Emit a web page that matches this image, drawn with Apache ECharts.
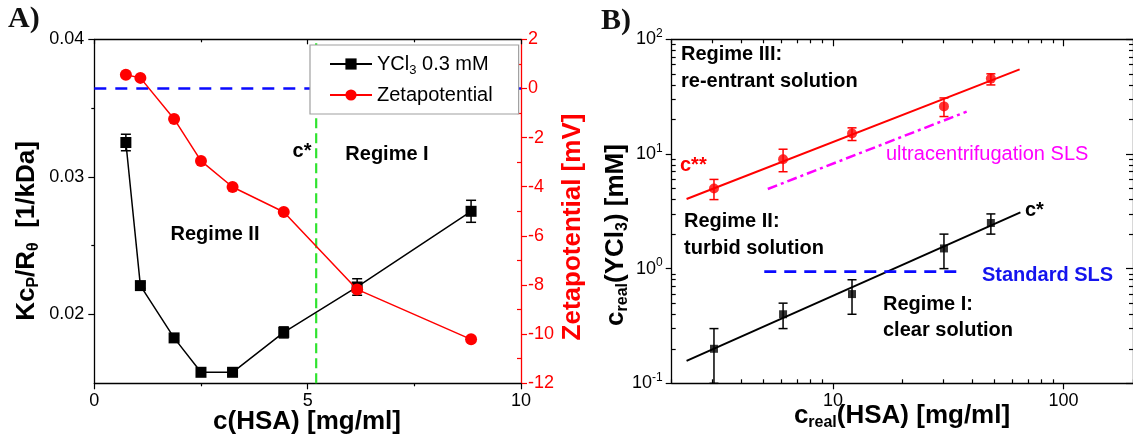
<!DOCTYPE html>
<html>
<head>
<meta charset="utf-8">
<script src="https://cdn.jsdelivr.net/npm/echarts@6/dist/echarts.min.js"></script>
<style>
  html, body { margin: 0; padding: 0; background: #fff; }
  #chart { width: 1133px; height: 443px; }
</style>
</head>
<body>
<div id="chart"></div>
<script>
// ---------- Panel A: scattering ratio and zeta potential vs. HSA concentration ----------
const hsaConc       = [0.74, 1.08, 1.87, 2.50, 3.24, 4.44, 6.16, 8.83];          // mg/ml
const kcOverR       = [0.0325, 0.0221, 0.0183, 0.0158, 0.0158, 0.0187, 0.0220, 0.0275]; // 1/kDa
const kcOverRErr    = [0.0006, 0.0002, 0.0002, 0.0002, 0.0002, 0.0004, 0.0006, 0.0008];
const zetaPotential = [0.56, 0.43, -1.24, -2.95, -4.01, -5.03, -8.18, -10.21];   // mV
const zeroLineX     = [0, 10];
const zeroLineY     = [0, 0];
const cStarLineX    = [5.2, 5.2];
const cStarLineY    = [-12, 2];

// ---------- Panel B: phase boundaries (log-log) ----------
const hsaReal          = [3.05, 6.08, 12.1, 30.3, 48.4];   // mg/ml
const cDoubleStar      = [5.0, 9.0, 15.1, 26.0, 45.4];     // mM
const cDoubleStarLow   = [4.0, 7.0, 13.1, 21.2, 40.0];
const cDoubleStarHigh  = [6.0, 11.0, 16.9, 30.8, 50.0];
const cStarVals        = [0.2, 0.4, 0.6, 1.5, 2.5];        // mM
const cStarLow         = [0.1, 0.3, 0.4, 1.0, 2.0];
const cStarHigh        = [0.3, 0.5, 0.8, 2.0, 3.0];
const fitUpperX        = [2.32, 64.5];
const fitUpperY        = [4.05, 54.6];
const fitLowerX        = [2.32, 65.0];
const fitLowerY        = [0.157, 3.1];
const ultraX           = [5.22, 38.0];
const ultraY           = [4.95, 23.4];
const standardX        = [5.04, 36.2];
const standardY        = [0.94, 0.94];

// ---------- tick values ----------
const aYMajor   = [0.02, 0.03, 0.04];
const aYMinor   = [0.025, 0.035];
const zetaMinor = [-11, -9, -7, -5, -3, -1, 1];
const bXMajor   = [10, 100];
const bYMajor   = [0.1, 1, 10, 100];

function logMinor(decades) {
  const out = [];
  decades.forEach(d => { for (let k = 2; k <= 9; k++) out.push(+(k * d).toPrecision(6)); });
  return out;
}
const bXMinor = logMinor([1, 10, 100]);
const bYMinor = logMinor([0.1, 1, 10]);

const sans = '"Liberation Sans", Arial, sans-serif';
const serif = '"Liberation Serif", "Times New Roman", serif';

const zip = (xs, ys) => xs.map((x, i) => [x, ys[i]]);

function errorBar(color, half, width) {
  return function (params, api) {
    const x = api.value(0);
    const top = api.coord([x, api.value(2)]);
    const bot = api.coord([x, api.value(1)]);
    const st = { stroke: color, lineWidth: width };
    return {
      type: 'group',
      children: [
        { type: 'line', shape: { x1: top[0], y1: top[1], x2: bot[0], y2: bot[1] }, style: st },
        { type: 'line', shape: { x1: top[0] - half, y1: top[1], x2: top[0] + half, y2: top[1] }, style: st },
        { type: 'line', shape: { x1: bot[0] - half, y1: bot[1], x2: bot[0] + half, y2: bot[1] }, style: st }
      ]
    };
  };
}

const axisLineBlack = { show: true, onZero: false, lineStyle: { color: '#000', width: 1.3 } };
const noLine = { show: false, onZero: false };
const labelBase = { fontSize: 18, fontFamily: sans, color: '#000' };
const supRich = { sup: { fontSize: 12, fontFamily: sans, color: '#000', padding: [0, 0, 11, 0] } };

function hiddenAxisExtras() {
  return { axisLabel: { show: false }, splitLine: { show: false } };
}

const chart = echarts.init(document.getElementById('chart'), null, { renderer: 'canvas' });

const option = {
  animation: false,
  backgroundColor: '#fff',
  grid: [
    { left: 94.3, right: 612, top: 39.3, bottom: 59.7 },
    { left: 671.7, right: -2.8, top: 39.3, bottom: 59.7 }
  ],
  xAxis: [
    // 0: panel A bottom
    { gridIndex: 0, type: 'value', min: 0, max: 10, interval: 5, position: 'bottom',
      axisLine: axisLineBlack,
      axisTick: { show: true, length: 6, lineStyle: { color: '#000', width: 1.2 } },
      minorTick: { show: true, splitNumber: 2, length: 3, lineStyle: { color: '#000', width: 1.2 } },
      axisLabel: Object.assign({ margin: 9 }, labelBase),
      splitLine: { show: false } },
    // 1: panel A top frame
    Object.assign({ gridIndex: 0, type: 'value', min: 0, max: 10, interval: 5, position: 'top',
      axisLine: axisLineBlack,
      axisTick: { show: true, inside: true, length: 5, lineStyle: { color: '#000', width: 1.2 } },
      minorTick: { show: true, splitNumber: 2, length: 3, lineStyle: { color: '#000', width: 1.2 } } },
      hiddenAxisExtras()),
    // 2: panel B bottom, decades
    { gridIndex: 1, type: 'log', logBase: 10, min: 2, max: 200, position: 'bottom',
      axisLine: axisLineBlack,
      axisTick: { show: true, length: 6, customValues: bXMajor, lineStyle: { color: '#000', width: 1.2 } },
      axisLabel: Object.assign({ margin: 9, customValues: bXMajor, formatter: v => String(Math.round(v)) }, labelBase),
      splitLine: { show: false } },
    // 3: panel B bottom, minor ticks
    Object.assign({ gridIndex: 1, type: 'log', logBase: 10, min: 2, max: 200, position: 'bottom',
      axisLine: noLine,
      axisTick: { show: true, inside: true, length: 4, customValues: bXMinor, lineStyle: { color: '#000', width: 1.2 } } },
      hiddenAxisExtras()),
    // 4: panel B top, decades
    Object.assign({ gridIndex: 1, type: 'log', logBase: 10, min: 2, max: 200, position: 'top',
      axisLine: axisLineBlack,
      axisTick: { show: true, inside: true, length: 7, customValues: bXMajor, lineStyle: { color: '#000', width: 1.2 } } },
      hiddenAxisExtras()),
    // 5: panel B top, minor ticks
    Object.assign({ gridIndex: 1, type: 'log', logBase: 10, min: 2, max: 200, position: 'top',
      axisLine: noLine,
      axisTick: { show: true, inside: true, length: 4, customValues: bXMinor, lineStyle: { color: '#000', width: 1.2 } } },
      hiddenAxisExtras())
  ],
  yAxis: [
    // 0: panel A left
    { gridIndex: 0, type: 'value', min: 0.015, max: 0.04, position: 'left',
      axisLine: axisLineBlack,
      axisTick: { show: true, length: 6, customValues: aYMajor, lineStyle: { color: '#000', width: 1.2 } },
      axisLabel: Object.assign({ margin: 10, customValues: aYMajor, formatter: v => v.toFixed(2) }, labelBase),
      splitLine: { show: false } },
    // 1: panel A left minor ticks
    Object.assign({ gridIndex: 0, type: 'value', min: 0.015, max: 0.04, position: 'left',
      axisLine: noLine,
      axisTick: { show: true, length: 3, customValues: aYMinor, lineStyle: { color: '#000', width: 1.2 } } },
      hiddenAxisExtras()),
    // 2: panel A right, zeta potential
    { gridIndex: 0, type: 'value', min: -12, max: 2, interval: 2, position: 'right',
      axisLine: { show: true, onZero: false, lineStyle: { color: '#ff0000', width: 1.3 } },
      axisTick: { show: true, length: 6, lineStyle: { color: '#ff0000', width: 1.2 } },
      axisLabel: { margin: 7, fontSize: 18, fontFamily: sans, color: '#ff0000' },
      splitLine: { show: false } },
    // 3: panel A right minor ticks
    Object.assign({ gridIndex: 0, type: 'value', min: -12, max: 2, position: 'right',
      axisLine: noLine,
      axisTick: { show: true, inside: true, length: 4, customValues: zetaMinor, lineStyle: { color: '#ff0000', width: 1.2 } } },
      hiddenAxisExtras()),
    // 4: panel B left, decades
    { gridIndex: 1, type: 'log', logBase: 10, min: 0.1, max: 100, position: 'left',
      axisLine: axisLineBlack,
      axisTick: { show: true, length: 6, customValues: bYMajor, lineStyle: { color: '#000', width: 1.2 } },
      axisLabel: Object.assign({ margin: 9, customValues: bYMajor,
        formatter: v => '10{sup|' + Math.round(Math.log10(v)) + '}', rich: supRich }, labelBase),
      splitLine: { show: false } },
    // 5: panel B left minor ticks
    Object.assign({ gridIndex: 1, type: 'log', logBase: 10, min: 0.1, max: 100, position: 'left',
      axisLine: noLine,
      axisTick: { show: true, inside: true, length: 4, customValues: bYMinor, lineStyle: { color: '#000', width: 1.2 } } },
      hiddenAxisExtras()),
    // 6: panel B right frame
    Object.assign({ gridIndex: 1, type: 'log', logBase: 10, min: 0.1, max: 100, position: 'right',
      axisLine: axisLineBlack,
      axisTick: { show: true, inside: true, length: 7, customValues: bYMajor, lineStyle: { color: '#000', width: 1.2 } } },
      hiddenAxisExtras()),
    // 7: panel B right minor ticks
    Object.assign({ gridIndex: 1, type: 'log', logBase: 10, min: 0.1, max: 100, position: 'right',
      axisLine: noLine,
      axisTick: { show: true, inside: true, length: 4, customValues: bYMinor, lineStyle: { color: '#000', width: 1.2 } } },
      hiddenAxisExtras())
  ],
  legend: {
    data: ['YCl3 0.3 mM', 'Zetapotential'],
    left: 310, top: 45,
    orient: 'vertical',
    padding: [9, 26, 9, 19],
    itemGap: 8,
    itemWidth: 42,
    itemHeight: 14,
    borderColor: '#a0a0a0',
    borderWidth: 1.2,
    borderRadius: 0,
    backgroundColor: '#fff',
    selectedMode: false,
    formatter: name => name === 'YCl3 0.3 mM' ? 'YCl{sub|3} 0.3 mM' : name,
    textStyle: {
      fontSize: 20, fontFamily: sans, color: '#000',
      rich: { sub: { fontSize: 13, fontFamily: sans, color: '#000', padding: [13, 0, 0, 0] } }
    }
  },
  series: [
    // ----- panel A -----
    { type: 'line', name: 'zero', xAxisIndex: 0, yAxisIndex: 2, data: zip(zeroLineX, zeroLineY),
      symbol: 'none', silent: true, z: 1,
      lineStyle: { color: '#0a0aff', width: 2.5, type: [12, 9] } },
    { type: 'line', name: 'c*', xAxisIndex: 0, yAxisIndex: 2, data: zip(cStarLineX, cStarLineY),
      symbol: 'none', silent: true, z: 1,
      lineStyle: { color: '#2fe32f', width: 2.2, type: [10, 5] } },
    { type: 'custom', name: 'kcErr', xAxisIndex: 0, yAxisIndex: 0, z: 2,
      renderItem: errorBar('#000', 5, 1.5),
      encode: { x: 0, y: [1, 2] },
      data: hsaConc.map((x, i) => [x, kcOverR[i] - kcOverRErr[i], kcOverR[i] + kcOverRErr[i]]) },
    { type: 'line', name: 'YCl3 0.3 mM', xAxisIndex: 0, yAxisIndex: 0, z: 3,
      data: zip(hsaConc, kcOverR),
      symbol: 'rect', symbolSize: 11,
      itemStyle: { color: '#000' },
      lineStyle: { color: '#000', width: 1.5 } },
    { type: 'line', name: 'Zetapotential', xAxisIndex: 0, yAxisIndex: 2, z: 4,
      data: zip(hsaConc, zetaPotential),
      symbol: 'circle', symbolSize: 12,
      itemStyle: { color: '#ff0000' },
      lineStyle: { color: '#ff0000', width: 1.5 } },

    // ----- panel B -----
    { type: 'line', name: 'fitUpper', xAxisIndex: 2, yAxisIndex: 4, data: zip(fitUpperX, fitUpperY),
      symbol: 'none', silent: true, z: 1, lineStyle: { color: '#ff0000', width: 2 } },
    { type: 'line', name: 'fitLower', xAxisIndex: 2, yAxisIndex: 4, data: zip(fitLowerX, fitLowerY),
      symbol: 'none', silent: true, z: 1, lineStyle: { color: '#000', width: 2 } },
    { type: 'line', name: 'ultracentrifugation', xAxisIndex: 2, yAxisIndex: 4, data: zip(ultraX, ultraY),
      symbol: 'none', silent: true, z: 1, lineStyle: { color: '#ff00ff', width: 2.5, type: [10, 4, 3, 4] } },
    { type: 'line', name: 'standard', xAxisIndex: 2, yAxisIndex: 4, data: zip(standardX, standardY),
      symbol: 'none', silent: true, z: 1, lineStyle: { color: '#0a0aff', width: 2.8, type: [12, 8] } },
    { type: 'custom', name: 'cStarErr', xAxisIndex: 2, yAxisIndex: 4, z: 2,
      renderItem: errorBar('#000', 4.5, 1.5),
      encode: { x: 0, y: [1, 2] },
      data: hsaReal.map((x, i) => [x, cStarLow[i], cStarHigh[i]]) },
    { type: 'scatter', name: 'cStar', xAxisIndex: 2, yAxisIndex: 4, z: 3,
      data: zip(hsaReal, cStarVals), symbol: 'rect', symbolSize: 8,
      itemStyle: { color: '#000' } },
    { type: 'custom', name: 'cDoubleStarErr', xAxisIndex: 2, yAxisIndex: 4, z: 2,
      renderItem: errorBar('#ff0000', 4.5, 1.5),
      encode: { x: 0, y: [1, 2] },
      data: hsaReal.map((x, i) => [x, cDoubleStarLow[i], cDoubleStarHigh[i]]) },
    { type: 'scatter', name: 'cDoubleStar', xAxisIndex: 2, yAxisIndex: 4, z: 3,
      data: zip(hsaReal, cDoubleStar), symbol: 'circle', symbolSize: 10,
      itemStyle: { color: '#ff0000' } }
  ],
  graphic: []
};

function txt(text, x, y, opts) {
  const o = opts || {};
  const el = {
    type: 'text', x: x, y: y, z: 10, silent: true,
    rotation: o.rotation || 0,
    style: {
      text: text,
      fill: o.color || '#000',
      fontSize: o.size || 20,
      fontWeight: o.weight || 'normal',
      fontFamily: o.family || sans,
      align: o.align || 'left',
      verticalAlign: 'middle',
      textAlign: o.align || 'left',
      textVerticalAlign: 'middle',
      rich: o.rich
    }
  };
  return el;
}

const titleSub = (color) => ({ sub: { fontSize: 16, fontWeight: 'bold', fontFamily: sans, fill: color, color: color, padding: [14, 0, 0, 0] } });

option.graphic = [
  // panel letters
  txt('A)', 8, 19, { family: serif, size: 30, weight: 'bold', color: '#111' }),
  txt('B)', 601, 21, { family: serif, size: 30, weight: 'bold', color: '#111' }),

  // panel A titles
  txt('Kc{sub|P}/R{sub|\u03b8}  [1/kDa]', 27, 231, { size: 26, weight: 'bold', align: 'center', rotation: Math.PI / 2, rich: titleSub('#000') }),
  txt('c(HSA) [mg/ml]', 307, 422, { size: 26, weight: 'bold', align: 'center' }),
  txt('Zetapotential [mV]', 573, 227, { size: 26, weight: 'bold', align: 'center', rotation: Math.PI / 2, color: '#ff0000' }),

  // panel A annotations
  txt('c*', 302, 151, { weight: 'bold', align: 'center' }),
  txt('Regime I', 387, 154, { weight: 'bold', align: 'center' }),
  txt('Regime II', 215, 234, { weight: 'bold', align: 'center' }),

  // panel B titles
  txt('c{sub|real}(YCl{sub|3}) [mM]', 616, 235, { size: 26, weight: 'bold', align: 'center', rotation: Math.PI / 2, rich: titleSub('#000') }),
  txt('c{sub|real}(HSA) [mg/ml]', 902, 416, { size: 26, weight: 'bold', align: 'center', rich: titleSub('#000') }),

  // panel B annotations
  txt('Regime III:', 681, 54, { weight: 'bold' }),
  txt('re-entrant solution', 681, 81, { weight: 'bold' }),
  txt('c**', 680, 165, { weight: 'bold', color: '#ff0000' }),
  txt('Regime II:', 684, 221, { weight: 'bold' }),
  txt('turbid solution', 684, 248, { weight: 'bold' }),
  txt('Regime I:', 883, 304, { weight: 'bold' }),
  txt('clear solution', 883, 330, { weight: 'bold' }),
  txt('ultracentrifugation SLS', 886, 154, { color: '#ff00ff' }),
  txt('Standard SLS', 982, 275, { weight: 'bold', color: '#1414ee' }),
  txt('c*', 1025, 210, { weight: 'bold' })
];

chart.setOption(option);
</script>
</body>
</html>
